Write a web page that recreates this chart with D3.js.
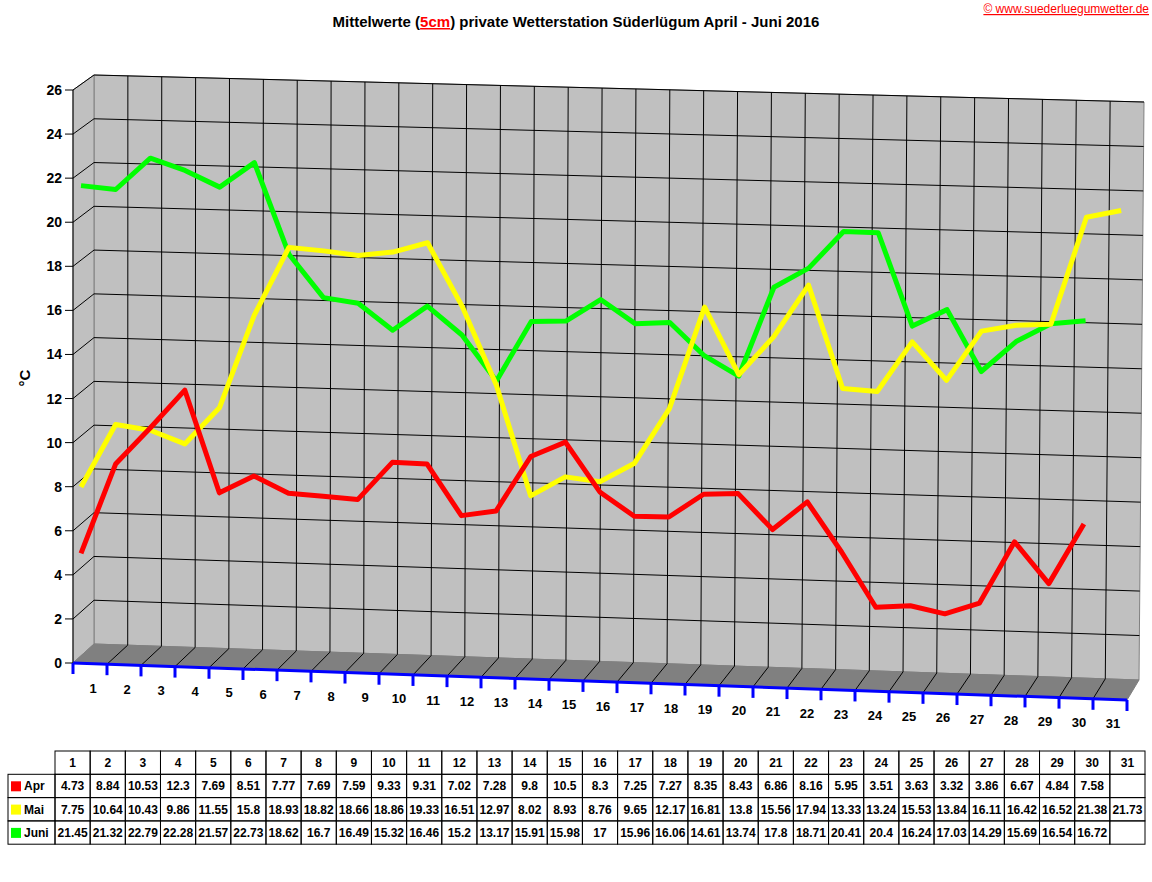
<!DOCTYPE html>
<html><head><meta charset="utf-8">
<script src="https://cdn.jsdelivr.net/npm/d3@7"></script>
<style>body{margin:0;background:#fff}text{font-family:Arial,"Liberation Sans",sans-serif}</style>
</head><body>
<svg id="chart" width="1152" height="882"></svg>
<script>
let days = d3.range(1, 32);
let yTicks = d3.range(0, 27, 2);
let seriesNames = ["Apr", "Mai", "Juni"];
let seriesColors = ["#ff0000", "#ffff00", "#00ff00"];
let apr = [4.73,8.84,10.53,12.3,7.69,8.51,7.77,7.69,7.59,9.33,9.31,7.02,7.28,9.8,10.5,8.3,7.25,7.27,8.35,8.43,6.86,8.16,5.95,3.51,3.63,3.32,3.86,6.67,4.84,7.58];
let mai = [7.75,10.64,10.43,9.86,11.55,15.8,18.93,18.82,18.66,18.86,19.33,16.51,12.97,8.02,8.93,8.76,9.65,12.17,16.81,13.8,15.56,17.94,13.33,13.24,15.53,13.84,16.11,16.42,16.52,21.38,21.73];
let juni = [21.45,21.32,22.79,22.28,21.57,22.73,18.62,16.7,16.49,15.32,16.46,15.2,13.17,15.91,15.98,17,15.96,16.06,14.61,13.74,17.8,18.71,20.41,20.4,16.24,17.03,14.29,15.69,16.54,16.72];
let series = [apr, mai, juni];

let svg = d3.select('#chart');

// 3D box corners: front / back plane, left / right, value 0 / 26
let F = {l0:[73,663], l1:[73,90], r0:[1127,700], r1:[1132,122]};
let B = {l0:[94,644], l1:[94,75], r0:[1139,680], r1:[1144,102]};
let lerp = (a,b,t) => [a[0]+(b[0]-a[0])*t, a[1]+(b[1]-a[1])*t];
let uScale = d3.scaleLinear().domain([0, 31]).range([0, 1]);
let vScale = d3.scaleLinear().domain([0, 26]).range([0, 1]);
function proj(u, v, d) {
    let P = d === 0 ? F : d === 1 ? B : {
        l0:lerp(F.l0,B.l0,d), l1:lerp(F.l1,B.l1,d), r0:lerp(F.r0,B.r0,d), r1:lerp(F.r1,B.r1,d)};
    let left = lerp(P.l0, P.l1, v), right = lerp(P.r0, P.r1, v);
    return lerp(left, right, u);
}
let pts = a => a.map(p => p.join(',')).join(' ');

// back wall
svg.append('polygon').attr('points', pts([B.l0,B.l1,B.r1,B.r0]))
    .attr('fill','#c0c0c0').attr('stroke','#808080');
// left wall
svg.append('polygon').attr('points', pts([F.l0,F.l1,B.l1,B.l0]))
    .attr('fill','#c0c0c0').attr('stroke','#808080');
// floor
svg.append('polygon').attr('points', pts([F.l0,B.l0,B.r0,F.r0]))
    .attr('fill','#808080').attr('stroke','#808080');

let grid = svg.append('g').attr('stroke','#000').attr('stroke-width',1);
yTicks.slice(1).forEach(t => {
    let v = vScale(t);
    let a = proj(0,v,0), b = proj(0,v,1), c = proj(1,v,1);
    grid.append('polyline').attr('fill','none').attr('points', pts([a,b,c]));
});
d3.range(1, 31).forEach(k => {
    let u = uScale(k);
    let a = proj(u,0,0), b = proj(u,0,1), c = proj(u,1,1);
    grid.append('polyline').attr('fill','none').attr('points', pts([a,b,c]));
});

// y axis
let ya = svg.append('g');
ya.append('line').attr('x1',F.l0[0]).attr('y1',F.l0[1]).attr('x2',F.l1[0]).attr('y2',F.l1[1]).attr('stroke','#000');
yTicks.forEach(t => {
    let p = proj(0, vScale(t), 0);
    ya.append('line').attr('x1',p[0]-8).attr('x2',p[0]).attr('y1',p[1]).attr('y2',p[1]).attr('stroke','#000');
    ya.append('text').attr('x',p[0]-11).attr('y',p[1]+5).attr('text-anchor','end')
        .attr('font-size',14).attr('font-weight','bold').text(t);
});
svg.append('text').attr('transform','translate(30,378) rotate(-90)').attr('text-anchor','middle')
    .attr('font-size',15).attr('font-weight','bold').text('°C');

// x axis
let xa = svg.append('g');
xa.append('line').attr('x1',F.l0[0]).attr('y1',F.l0[1]).attr('x2',F.r0[0]).attr('y2',F.r0[1])
    .attr('stroke','#0000ff').attr('stroke-width',3);
d3.range(0, 32).forEach(k => {
    let p = proj(uScale(k), 0, 0);
    xa.append('line').attr('x1',p[0]).attr('x2',p[0]).attr('y1',p[1]).attr('y2',p[1]+11)
        .attr('stroke','#0000ff').attr('stroke-width',3);
});
days.forEach(dd => {
    let p = proj(uScale(dd-0.5), 0, 0);
    xa.append('text').attr('x',p[0]+3).attr('y',p[1]+29).attr('text-anchor','middle')
        .attr('font-size',13).attr('font-weight','bold').text(dd);
});

// series lines
let xDay = d3.scaleLinear().domain([1, 31]).range([uScale(0.05), uScale(30.6)]);
let order = [2, 1, 0];
order.forEach(si => {
    let p = series[si].map((v, i) => proj(xDay(i+1), vScale(v), 0.3));
    svg.append('path').attr('d', d3.line()(p)).attr('fill','none')
        .attr('stroke', seriesColors[si]).attr('stroke-width',5).attr('stroke-linejoin','round');
});

// title
let title = svg.append('text').attr('x',576).attr('y',27).attr('text-anchor','middle')
    .attr('font-size',15).attr('font-weight','bold');
title.append('tspan').text('Mittelwerte (');
title.append('tspan').attr('fill','#ff0000').attr('text-decoration','underline').text('5cm');
title.append('tspan').text(') private Wetterstation Süderlügum April - Juni 2016');
svg.append('text').attr('x',1149).attr('y',13).attr('text-anchor','end').attr('font-size',12)
    .attr('fill','#ff0000').attr('text-decoration','underline').text('© www.suederluegumwetter.de');

// data table
let tx0 = 8, tx1 = 55, cw = (1145 - 55) / 31, ty0 = 751, rh = 23.3;
let tbl = svg.append('g');
let cellX = k => tx1 + k*cw;
// header row
days.forEach((dd, k) => {
    tbl.append('rect').attr('x',cellX(k)).attr('y',ty0).attr('width',cw).attr('height',rh)
        .attr('fill','none').attr('stroke','#000');
    tbl.append('text').attr('x',cellX(k)+cw/2).attr('y',ty0+16).attr('text-anchor','middle')
        .attr('font-size',12).attr('font-weight','bold').text(dd);
});
series.forEach((s, si) => {
    let y = ty0 + rh*(si+1);
    tbl.append('rect').attr('x',tx0).attr('y',y).attr('width',tx1-tx0).attr('height',rh)
        .attr('fill','none').attr('stroke','#000');
    tbl.append('rect').attr('x',tx0+3).attr('y',y+7).attr('width',10).attr('height',10).attr('fill',seriesColors[si]);
    tbl.append('text').attr('x',tx0+16).attr('y',y+16).attr('font-size',12).attr('font-weight','bold').text(seriesNames[si]);
    days.forEach((dd, k) => {
        tbl.append('rect').attr('x',cellX(k)).attr('y',y).attr('width',cw).attr('height',rh)
            .attr('fill','none').attr('stroke','#000');
        if (s[k] !== undefined)
            tbl.append('text').attr('x',cellX(k)+cw/2).attr('y',y+16).attr('text-anchor','middle')
                .attr('font-size',12).attr('font-weight','bold').text(s[k]);
    });
});
</script>
</body></html>
